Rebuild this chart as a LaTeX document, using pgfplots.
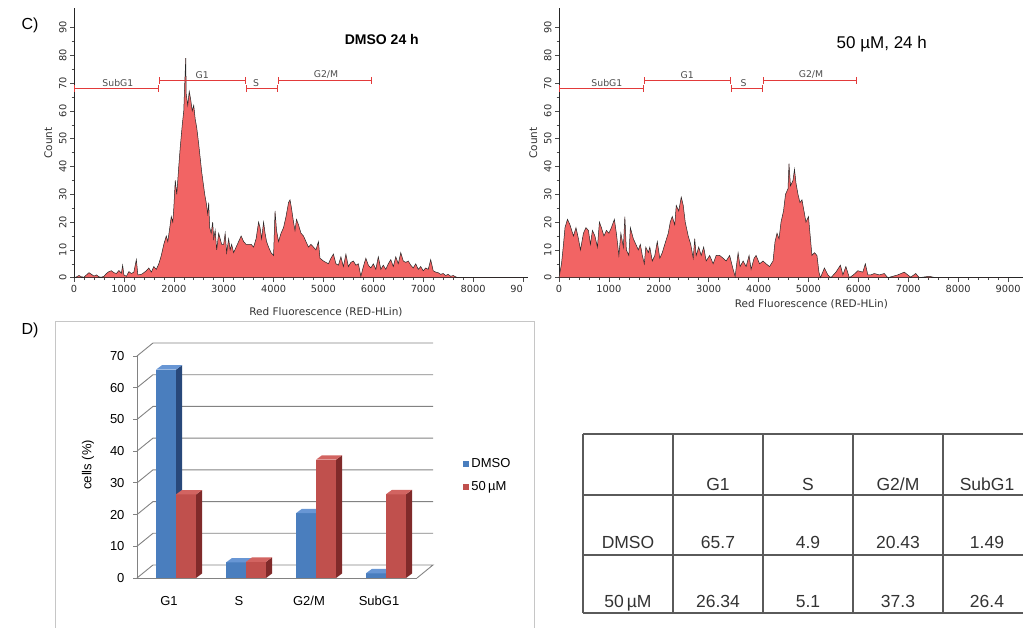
\documentclass[border=0pt]{standalone}
\usepackage{fontspec}
\setmainfont{Liberation Sans}
\newfontfamily\dejavu{DejaVu Sans}
\usepackage{pgfplots}
\pgfplotsset{compat=1.18}
\usepackage{pgfplotstable}
\usetikzlibrary{arrows.meta}

\definecolor{histfill}{RGB}{242,100,100}
\definecolor{gatered}{RGB}{226,58,58}
\definecolor{bluefront}{RGB}{74,126,190}
\definecolor{blueside}{RGB}{40,72,122}
\definecolor{bluetop}{RGB}{104,150,212}
\definecolor{redfront}{RGB}{192,80,77}
\definecolor{redside}{RGB}{128,42,42}
\definecolor{redtop}{RGB}{210,100,97}
\definecolor{gridc}{RGB}{130,130,130}
\definecolor{tablec}{RGB}{90,90,90}

% DNA content histogram, DMSO 24 h
\pgfplotstableread{
x y
0 0
50 0.3
100 0.8
150 0.3
200 0.2
250 1.0
300 1.8
350 1.2
400 0.6
450 1.0
500 0.3
550 0.2
600 0.5
650 1.5
700 2.2
750 2.5
800 1.8
850 1.5
900 2.6
950 1.6
975 4.5
1000 1.0
1050 0.5
1100 2.2
1150 1.5
1200 2.0
1250 6.5
1280 1.0
1350 1.2
1400 1.8
1450 2.5
1500 3.5
1550 2.0
1600 4.0
1650 3.0
1700 5.0
1750 8
1800 12
1850 15
1880 13
1920 18
1950 22
1980 20
2000 25
2030 35
2060 30
2100 40
2130 47
2170 55
2200 60
2220 70
2240 79
2250 66
2280 62
2310 67
2340 64
2370 60
2400 62
2430 57
2460 54
2500 48
2530 43
2560 38
2590 34
2620 30
2650 27
2680 23
2700 27
2720 18
2750 16
2780 20
2800 14
2830 17
2860 10
2900 16
2930 14
2960 12
3000 12
3030 16
3060 9
3100 14
3130 10
3160 12
3200 9
3250 11
3300 13
3350 15
3400 13
3450 12
3500 12
3550 12
3600 11
3650 14
3700 20
3730 18
3760 14
3800 20
3830 16
3860 13
3900 11
3950 9
4000 8
4030 24
4060 17
4100 13
4150 16
4200 18
4250 22
4300 27
4330 28
4360 25
4400 20
4430 17
4460 21
4500 19
4550 16
4600 15
4650 13
4700 11
4750 12
4800 11
4850 10
4900 13
4930 7
5000 6
5050 5.5
5100 5
5150 7
5200 8.5
5250 5
5300 4.5
5350 7.5
5400 4
5450 8.5
5500 4
5550 5.5
5600 6
5650 4.5
5700 5
5750 0.5
5800 4
5850 7
5900 4.5
5950 3.5
6000 5
6050 3
6100 7.5
6150 3
6200 4.5
6250 3
6300 5
6350 6.5
6400 4
6450 7.5
6500 5
6550 9
6600 6
6650 5.5
6700 6
6750 4.5
6800 3.5
6850 5
6900 3
6950 4
7000 2.5
7050 3.5
7100 3
7150 6.5
7200 2.5
7250 2
7300 1.8
7350 1.2
7400 1.5
7450 0.8
7500 1.2
7550 0.5
7600 0.8
7650 0.3
7700 0
9000 0
}\dmsohist

% DNA content histogram, 50 uM 24 h
\pgfplotstableread{
x y
0 0
50 5
90 12
120 18
170 21
220 19
290 15
340 18
390 14
430 10
490 16
540 18
590 17
630 12
670 17
720 15
770 11
810 20
850 18
900 15
950 17
1000 16
1050 18
1110 21
1150 16
1200 8
1240 16
1290 11
1320 22
1350 10
1400 8
1430 18
1490 14
1540 12
1590 10
1630 12
1670 8
1710 5
1740 11
1790 9
1820 11
1870 6
1920 8
1970 13
2020 7
2070 9
2120 12
2190 16
2230 20
2270 22
2320 19
2350 26
2400 24
2450 29
2490 26
2530 20
2590 15
2640 12
2690 7
2720 14
2750 8
2800 11
2850 8
2900 11
2950 6
3020 8
3090 5
3150 8
3220 8
3290 7
3350 6
3420 8
3490 3
3530 0.5
3590 9
3630 4
3690 6
3750 4
3810 8
3850 3
3910 7
3950 8
4020 5
4090 6
4150 5
4220 4
4290 6
4330 13
4370 16
4410 14
4450 20
4500 24
4540 30
4590 32
4610 41
4640 33
4690 35
4720 39
4750 34
4790 30
4830 27
4870 28
4920 23
4950 20
5000 22
5040 14
5070 8
5120 9
5170 8
5210 2
5240 0
5320 3.5
5390 1
5450 0
5550 2
5640 4.5
5690 1
5750 4
5820 0
5900 1
5990 2.5
6090 2
6140 5
6190 1
6250 1
6320 1.5
6420 1
6520 1.5
6590 0
6790 1
6920 2
6990 1
7050 0.2
7150 1.5
7220 0
7420 0.5
7550 0
9000 0
}\treatedhist

\pgfplotsset{
  flowhist/.style={
    scale only axis, height=269.7pt,
    xmin=0, ymin=0, ymax=97,
    axis x line=bottom, axis y line=left,
    axis line style={-, draw=black!85, line width=0.8pt},
    ytick={0,10,...,90},
    minor x tick num=4, minor y tick num=1,
    tick align=outside, major tick length=4pt, minor tick length=2.5pt,
    tick style={black!70, line width=0.5pt},
    ticklabel style={font=\dejavu\fontsize{9.8}{10}\selectfont, text=black!82},
    yticklabel style={rotate=90, anchor=south},
    /pgf/number format/assume math mode=true,
    /pgf/number format/1000 sep={},
    xlabel={Red Fluorescence (RED-HLin)},
    ylabel={Count},
    label style={font=\dejavu\fontsize{10.5}{12}\selectfont, text=black!80},
    clip=false,
  },
}
\tikzset{
  gate/.style={draw=gatered, line width=0.9pt, {Bar[width=7pt]}-{Bar[width=7pt]}},
  gatelabel/.style={font=\dejavu\fontsize{9.3}{10}\selectfont, text=black!70, anchor=south, inner sep=1.5pt},
}

% 3-D bar: #1 left, #2 left+depth, #3 right, #4 right+depth, #5 value, #6 value+depth, #7 colour prefix
\newcommand\barthreed[7]{%
  \addplot[fill=#7front, draw=none, forget plot] coordinates {(#1,0) (#3,0) (#3,#5) (#1,#5)};
  \addplot[fill=#7side, draw=none, forget plot] coordinates {(#3,0) (#4,1.4) (#4,#6) (#3,#5)};
  \addplot[fill=#7top, draw=none, forget plot] coordinates {(#1,#5) (#3,#5) (#4,#6) (#2,#6)};
}

\begin{document}
\begin{tikzpicture}[x=1pt,y=1pt]
\useasboundingbox (0,0) rectangle (1023,628);

\node[anchor=west, font=\fontsize{16}{18}\selectfont] at (18,603) {C)};
\node[anchor=west, font=\fontsize{16}{18}\selectfont] at (18,298) {D)};

% ---------- histogram: DMSO ----------
\begin{axis}[flowhist,
  at={(74pt,350.3pt)}, anchor=south west, width=454pt, xmax=9100,
  xtick={0,1000,...,8000},
  extra x ticks={9000}, extra x tick labels={90},
  extra x tick style={xticklabel style={xshift=-6.5pt}},
  xlabel style={at={(ticklabel cs:0.555)}, anchor=north},
]
\addplot[fill=histfill, draw=black!85, line width=0.5pt] table {\dmsohist} \closedcycle;
\addplot[gate] coordinates {(0,68) (1700,68)};
\addplot[gate] coordinates {(1700,71) (3450,71)};
\addplot[gate] coordinates {(3450,68) (4080,68)};
\addplot[gate] coordinates {(4080,71) (5970,71)};
\node[gatelabel] at (axis cs:880,68) {SubG1};
\node[gatelabel] at (axis cs:2570,71) {G1};
\node[gatelabel] at (axis cs:3650,68) {S};
\node[gatelabel] at (axis cs:5050,71) {G2/M};
\node[font=\bfseries\fontsize{14}{16}\selectfont] at (axis cs:6170,85.5) {DMSO 24 h};
\end{axis}

% ---------- histogram: 50 uM ----------
\begin{axis}[flowhist,
  at={(559pt,350.3pt)}, anchor=south west, width=464pt, xmax=9300,
  xtick={0,1000,...,9000},
  xlabel style={at={(ticklabel cs:0.544)}, anchor=north},
]
\addplot[fill=histfill, draw=black!85, line width=0.5pt] table {\treatedhist} \closedcycle;
\addplot[gate] coordinates {(0,68) (1700,68)};
\addplot[gate] coordinates {(1700,71) (3450,71)};
\addplot[gate] coordinates {(3450,68) (4080,68)};
\addplot[gate] coordinates {(4080,71) (5970,71)};
\node[gatelabel] at (axis cs:960,68) {SubG1};
\node[gatelabel] at (axis cs:2570,71) {G1};
\node[gatelabel] at (axis cs:3700,68) {S};
\node[gatelabel] at (axis cs:5050,71) {G2/M};
\node[font=\fontsize{17}{19}\selectfont] at (axis cs:6470,84) {50 µM, 24 h};
\end{axis}

% ---------- bar chart of phase percentages ----------
\draw[gray!45, line width=0.8pt] (55,307) rectangle (534,-10);
\begin{axis}[
  at={(137pt,50pt)}, anchor=south west, scale only axis,
  width=280pt, height=222pt,
  xmin=137, xmax=417, ymin=0, ymax=70,
  axis x line=bottom, axis y line=left,
  axis line style={-, draw=gridc, line width=0.9pt},
  xtick={169,239,309,379}, xticklabels={G1,S,G2/M,SubG1},
  xtick style={draw=none},
  ytick={0,10,...,70},
  ytick style={draw=gridc, line width=0.9pt},
  tick align=outside, major tick length=4pt,
  ticklabel style={font=\fontsize{13}{15}\selectfont},
  xticklabel style={yshift=-11pt},
  yticklabel style={xshift=-5pt},
  /pgf/number format/assume math mode=true,
  ylabel={cells (\%)},
  ylabel style={at={(axis description cs:-0.175,0.51)}, anchor=center, font=\fontsize{13}{15}\selectfont},
  clip=false,
  legend style={at={(axis description cs:1.165,0.462)}, anchor=west, draw=none, fill=none,
    font=\fontsize{13}{15}\selectfont, row sep=8pt, inner sep=0pt},
  legend cell align=left,
  legend image code/.code={\fill[#1] (0pt,-3pt) rectangle (6pt,3pt);},
]
% walls and floor
\addplot[draw=gridc, line width=0.9pt, forget plot] coordinates {(137,0) (153,4.1) (433,4.1) (417,0)};
\addplot[draw=gridc, line width=0.9pt, forget plot] coordinates {(137,10) (153,14.1) (433,14.1)};
\addplot[draw=gridc, line width=0.9pt, forget plot] coordinates {(137,20) (153,24.1) (433,24.1)};
\addplot[draw=gridc, line width=0.9pt, forget plot] coordinates {(137,30) (153,34.1) (433,34.1)};
\addplot[draw=gridc, line width=0.9pt, forget plot] coordinates {(137,40) (153,44.1) (433,44.1)};
\addplot[draw=gridc, line width=0.9pt, forget plot] coordinates {(137,50) (153,54.1) (433,54.1)};
\addplot[draw=gridc, line width=0.9pt, forget plot] coordinates {(137,60) (153,64.1) (433,64.1)};
\addplot[draw=gridc, line width=0.9pt, forget plot] coordinates {(137,70) (153,74.1) (433,74.1)};
% bars
\barthreed{156}{162}{176}{182}{65.7}{67.1}{blue}
\barthreed{176}{182}{196}{202}{26.34}{27.74}{red}
\barthreed{226}{232}{246}{252}{4.9}{6.3}{blue}
\barthreed{246}{252}{266}{272}{5.1}{6.5}{red}
\barthreed{296}{302}{316}{322}{20.43}{21.83}{blue}
\barthreed{316}{322}{336}{342}{37.3}{38.7}{red}
\barthreed{366}{372}{386}{392}{1.49}{2.89}{blue}
\barthreed{386}{392}{406}{412}{26.4}{27.8}{red}
\addlegendimage{fill=bluefront, draw=none}
\addlegendentry{DMSO}
\addlegendimage{fill=redfront, draw=none}
\addlegendentry{50\,µM}
\end{axis}

% ---------- table of phase percentages ----------
\begin{scope}[draw=tablec, line width=1.1pt]
  \draw (583,194) -- (1030,194);
  \draw (583,133) -- (1030,133);
  \draw (583,73) -- (1030,73);
  \draw (583,15) -- (1030,15);
  \draw (583,194) -- (583,15);
  \draw (673,194) -- (673,15);
  \draw (763,194) -- (763,15);
  \draw (853,194) -- (853,15);
  \draw (943,194) -- (943,15);
\end{scope}
\begin{scope}[every node/.style={anchor=base, font=\fontsize{17.5}{19}\selectfont, text=black!80}]
  \node at (718,137.5) {G1};
  \node at (808,137.5) {S};
  \node at (898,137.5) {G2/M};
  \node at (987,137.5) {SubG1};
  \node at (628,79) {DMSO};
  \node at (718,79) {65.7};
  \node at (808,79) {4.9};
  \node at (898,79) {20.43};
  \node at (987,79) {1.49};
  \node at (628,20) {50\,µM};
  \node at (718,20) {26.34};
  \node at (808,20) {5.1};
  \node at (898,20) {37.3};
  \node at (987,20) {26.4};
\end{scope}
\end{tikzpicture}
\end{document}
